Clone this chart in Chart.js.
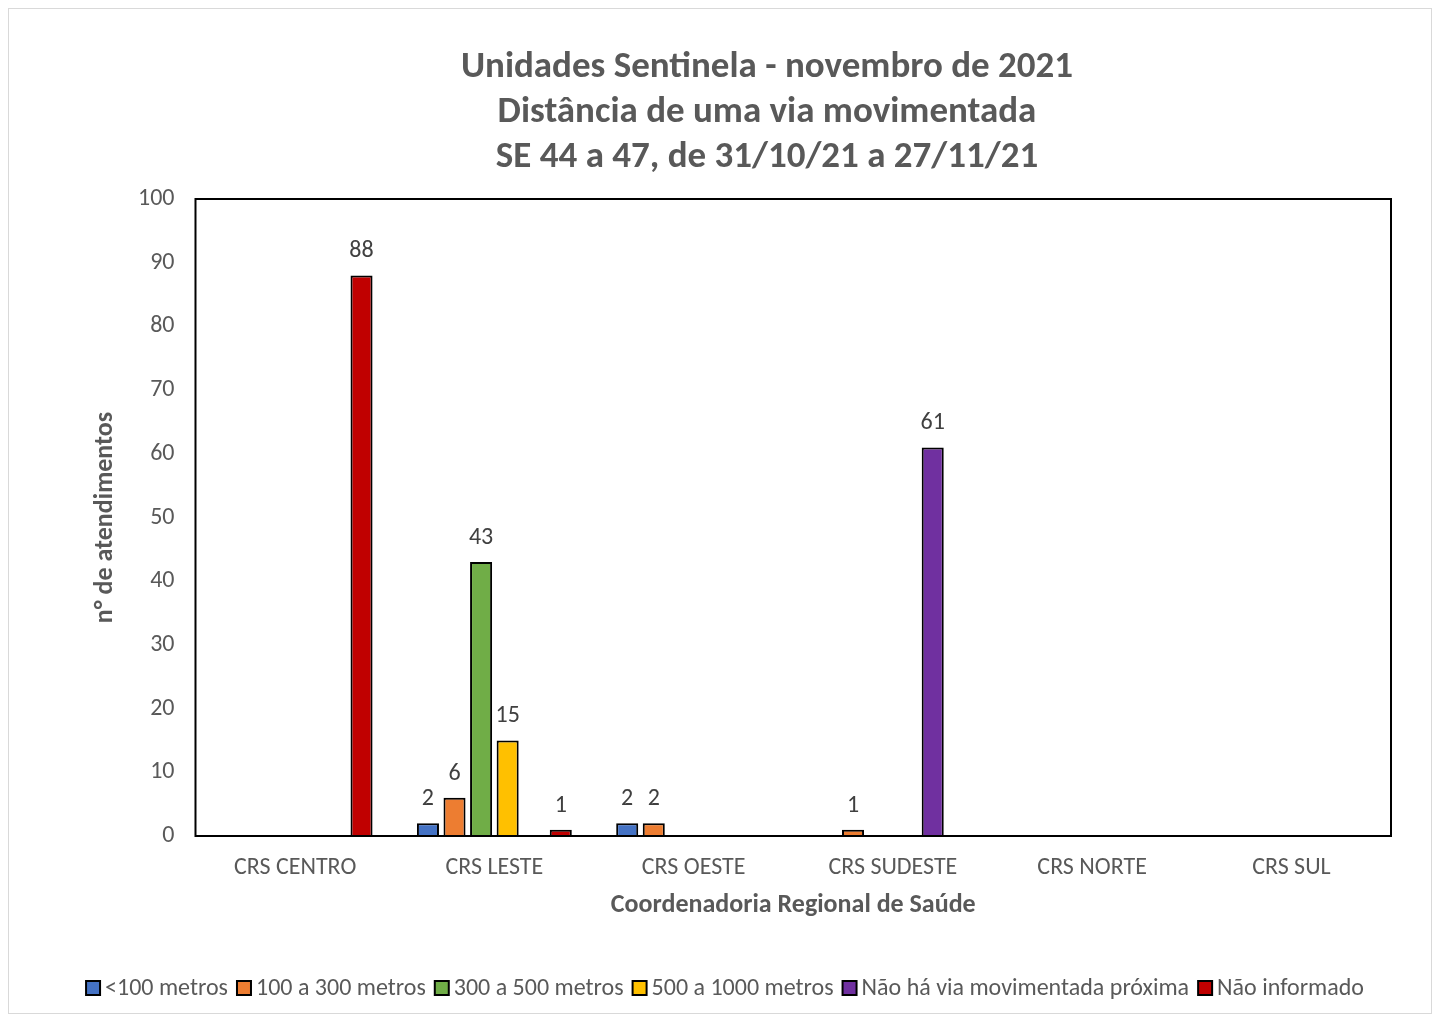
<!DOCTYPE html>
<html>
<head>
<meta charset="utf-8">
<script src="https://cdn.jsdelivr.net/npm/chart.js@4/dist/chart.umd.min.js"></script>
<style>
  html, body { margin: 0; padding: 0; background: #fff; }
  #wrap { position: absolute; left: 8px; top: 8px; width: 1424px; height: 1006px; border: 1px solid #d9d9d9; box-sizing: border-box; }
  canvas { display: block; }
</style>
</head>
<body>
<div id="wrap"><canvas id="chart"></canvas></div>
<script>
// --- Data ---
const categories = ['CRS CENTRO', 'CRS LESTE', 'CRS OESTE', 'CRS SUDESTE', 'CRS NORTE', 'CRS SUL'];
const seriesNames = ['<100 metros', '100 a 300 metros', '300 a 500 metros', '500 a 1000 metros', 'Não há via movimentada próxima', 'Não informado'];
const menos100 = [0, 2, 2, 0, 0, 0];
const de100a300 = [0, 6, 2, 1, 0, 0];
const de300a500 = [0, 43, 0, 0, 0, 0];
const de500a1000 = [0, 15, 0, 0, 0, 0];
const semVia = [0, 0, 0, 61, 0, 0];
const naoInformado = [88, 1, 0, 0, 0, 0];
const titleLines = ['Unidades Sentinela - novembro de 2021', 'Distância de uma via movimentada', 'SE 44 a 47, de 31/10/21 a 27/11/21'];
const seriesColors = ['#4472C4', '#ED7D31', '#70AD47', '#FFC000', '#7030A0', '#C00000'];

const fontFamily = "Calibri, Carlito, 'Open Sans', 'Noto Sans', sans-serif";

// title, frame around plot area, value labels, legend
const plotExtras = {
    id: 'plotExtras',
    afterDatasetsDraw(chart) {
        const ctx = chart.ctx;
        const a = chart.chartArea;
        ctx.save();
        ctx.strokeStyle = '#000';
        ctx.lineWidth = 2;
        ctx.strokeRect(a.left, a.top, a.right - a.left, a.bottom - a.top);

        ctx.fillStyle = '#404040';
        ctx.font = '24px ' + fontFamily;
        ctx.textAlign = 'center';
        ctx.textBaseline = 'bottom';
        chart.data.datasets.forEach((ds, i) => {
            chart.getDatasetMeta(i).data.forEach((bar, j) => {
                const v = ds.data[j];
                if (!v) return;
                ctx.fillText(String(v), bar.x, bar.y - 12);
            });
        });

        // chart title
        ctx.fillStyle = '#595959';
        ctx.font = 'bold 37px ' + fontFamily;
        ctx.textBaseline = 'middle';
        titleLines.forEach((t, k) => ctx.fillText(t, 758, 59 + k * 45));

        // legend
        ctx.font = '24px ' + fontFamily;
        ctx.textAlign = 'left';
        const box = 14, gap = 5, spacing = 9;
        const widths = seriesNames.map(n => ctx.measureText(n).width);
        const total = widths.reduce((s, w) => s + box + gap + w, 0) + spacing * (seriesNames.length - 1);
        let x = 716 - total / 2;
        const y = 979;
        seriesNames.forEach((n, i) => {
            ctx.fillStyle = seriesColors[i];
            ctx.fillRect(x, y - box / 2, box, box);
            ctx.strokeStyle = '#000';
            ctx.lineWidth = 2;
            ctx.strokeRect(x, y - box / 2, box, box);
            ctx.fillStyle = '#595959';
            ctx.fillText(n, x + box + gap, y + 1);
            x += box + gap + widths[i] + spacing;
        });
        ctx.restore();
    }
};

const allSeries = [menos100, de100a300, de300a500, de500a1000, semVia, naoInformado];

new Chart(document.getElementById('chart').getContext('2d'), {
    type: 'bar',
    data: {
        labels: categories,
        datasets: allSeries.map((values, i) => ({
            label: seriesNames[i],
            data: values,
            backgroundColor: seriesColors[i],
            borderColor: '#000',
            borderWidth: c => (c.raw ? 2 : 0),
            borderSkipped: 'bottom',
            categoryPercentage: 0.8,
            barPercentage: 0.83
        }))
    },
    options: {
        responsive: true,
        maintainAspectRatio: false,
        animation: false,
        layout: { padding: { left: 79, right: 40, top: 190, bottom: 95 } },
        scales: {
            x: {
                grid: { display: false },
                border: { display: false },
                ticks: { color: '#595959', font: { size: 24, family: fontFamily, lineHeight: 1.0 }, padding: 12 },
                title: {
                    display: true,
                    text: 'Coordenadoria Regional de Saúde',
                    color: '#595959',
                    font: { size: 26, weight: 'bold', family: fontFamily, lineHeight: 1.0 },
                    padding: { top: 0, bottom: 0 }
                }
            },
            y: {
                min: 0,
                max: 100,
                grid: { display: false },
                border: { display: false },
                ticks: { stepSize: 10, color: '#595959', font: { size: 24, family: fontFamily }, padding: 13 },
                title: {
                    display: true,
                    text: 'n° de atendimentos',
                    color: '#595959',
                    font: { size: 26, weight: 'bold', family: fontFamily, lineHeight: 1.0 },
                    padding: { top: 4, bottom: 7 }
                }
            }
        },
        plugins: {
            title: { display: false },
            legend: { display: false },
            tooltip: { enabled: false }
        }
    },
    plugins: [plotExtras]
});
</script>
</body>
</html>
